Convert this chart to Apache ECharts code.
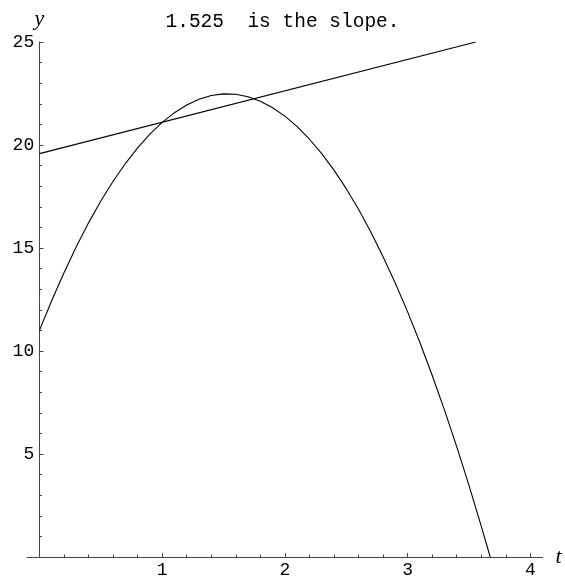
<!DOCTYPE html>
<html>
<head>
<meta charset="utf-8">
<script src="https://cdn.jsdelivr.net/npm/echarts@6/dist/echarts.min.js"></script>
<style>
html,body{margin:0;padding:0;background:#fff;}
#chart{width:565px;height:580px;}
</style>
</head>
<body>
<div id="chart"></div>
<script>
// Parabola samples (t, y)
var curveT = [0, 0.1, 0.2, 0.3, 0.4, 0.5, 0.6, 0.7, 0.8, 0.9, 1.0, 1.1, 1.2, 1.3, 1.4, 1.5, 1.6, 1.7, 1.8, 1.9, 2.0, 2.1, 2.2, 2.3, 2.4, 2.5, 2.6, 2.7, 2.8, 2.9, 3.0, 3.1, 3.2, 3.3, 3.4, 3.5, 3.6, 3.673];
var curveY = [11, 12.45, 13.8, 15.06, 16.22, 17.28, 18.24, 19.1, 19.86, 20.53, 21.1, 21.57, 21.94, 22.22, 22.4, 22.48, 22.46, 22.34, 22.12, 21.81, 21.4, 20.89, 20.28, 19.58, 18.78, 17.88, 16.88, 15.78, 14.58, 13.29, 11.9, 10.41, 8.82, 7.14, 5.36, 3.48, 1.5, 0];
// Secant line endpoints
var lineT = [0, 3.555];
var lineY = [19.58, 25.0];
// Tick labels
var xTickLabels = [1, 2, 3, 4];
var xMinorTicks = [0.2, 0.4, 0.6, 0.8, 1.2, 1.4, 1.6, 1.8, 2.2, 2.4, 2.6, 2.8, 3.2, 3.4, 3.6, 3.8, 4.0];
var yTickLabels = [5, 10, 15, 20, 25];
var titleText = '1.525  is the slope.';

function pairs(a, b) { return a.map(function (v, i) { return [v, b[i]]; }); }

var axisColor = '#444';
var mono = '"Liberation Mono", "DejaVu Sans Mono", monospace';
var serif = '"Liberation Serif", "DejaVu Serif", serif';

var chart = echarts.init(document.getElementById('chart'), null, {renderer: 'canvas'});
chart.setOption({
  animation: false,
  backgroundColor: '#fff',
  title: {
    text: titleText,
    left: 'center',
    top: 7,
    textStyle: {fontFamily: mono, fontSize: 19.5, fontWeight: 'normal', color: '#000'}
  },
  grid: {left: 27.2, right: 22.4, top: 42, bottom: 23, containLabel: false},
  xAxis: [{
    type: 'value', min: -0.1, max: 4.1,
    name: 't', nameLocation: 'end', nameGap: 13,
    nameTextStyle: {fontFamily: serif, fontStyle: 'italic', fontSize: 22, color: '#000'},
    axisLine: {show: true, onZero: true, lineStyle: {color: axisColor, width: 1}},
    axisTick: {show: true, inside: true, length: 4, customValues: xTickLabels, lineStyle: {color: axisColor}},
    axisLabel: {customValues: xTickLabels, fontFamily: mono, fontSize: 18, color: '#000', margin: 4},
    splitLine: {show: false}
  }, {
    type: 'value', min: -0.1, max: 4.1, position: 'bottom',
    axisLine: {show: false},
    axisTick: {show: true, inside: true, length: 2.5, customValues: xMinorTicks, lineStyle: {color: axisColor}},
    axisLabel: {show: false},
    splitLine: {show: false}
  }],
  yAxis: {
    type: 'value', min: 0, max: 25, interval: 5,
    name: 'y', nameLocation: 'end', nameGap: 12,
    nameTextStyle: {fontFamily: serif, fontStyle: 'italic', fontSize: 22, color: '#000', align: 'center'},
    axisLine: {show: true, onZero: true, lineStyle: {color: axisColor, width: 1}},
    axisTick: {show: true, inside: true, length: 4, lineStyle: {color: axisColor}},
    minorTick: {show: true, splitNumber: 5, length: 2.5, lineStyle: {color: axisColor}},
    axisLabel: {customValues: yTickLabels, fontFamily: mono, fontSize: 18, color: '#000', margin: -7},
    splitLine: {show: false}
  },
  series: [{
    type: 'line', xAxisIndex: 0, data: pairs(curveT, curveY),
    showSymbol: false, smooth: false, clip: true,
    lineStyle: {color: '#000', width: 1.1}
  }, {
    type: 'line', xAxisIndex: 0, data: pairs(lineT, lineY),
    showSymbol: false, clip: true,
    lineStyle: {color: '#000', width: 1.1}
  }]
});
</script>
</body>
</html>
